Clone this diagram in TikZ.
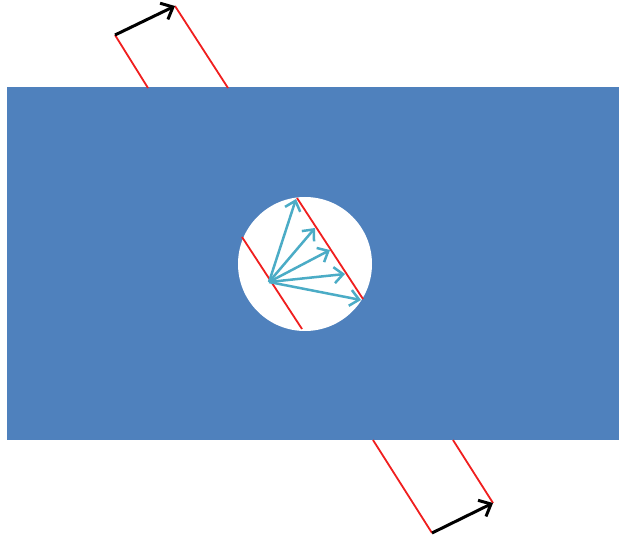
\documentclass[tikz,border=0pt]{standalone}
\usetikzlibrary{arrows.meta}
\definecolor{plate}{RGB}{79,129,189}
\definecolor{ray}{RGB}{75,172,198}
\definecolor{wf}{RGB}{240,30,30}
\begin{document}
\begin{tikzpicture}[x=1pt,y=-1pt,
  redline/.style={wf,line width=1.8pt},
  blackarrow/.style={black,line width=3pt,-{Straight Barb[length=10pt,width=18pt,line width=3pt]}},
  cyanarrow/.style={ray,line width=2.5pt,-{Straight Barb[length=9pt,width=16pt,line width=2.5pt]}}]
\useasboundingbox (0,0) rectangle (619,537);
\fill[plate] (7,87) rectangle (619,440);
\fill[white] (305,264) circle (67);
% top wavefront
\coordinate (ta) at (115,35);
\coordinate (tb) at (175,6);
\coordinate (ta2) at (148,88);
\coordinate (tb2) at (228,88);
\draw[redline] (ta) -- (ta2);
\draw[redline] (tb) -- (tb2);
\draw[blackarrow] (ta) -- (tb);
% bottom wavefront
\coordinate (ba) at (432,533);
\coordinate (bb) at (493,503);
\coordinate (ba2) at (373,440);
\coordinate (bb2) at (453,440);
\draw[redline] (ba2) -- (ba);
\draw[redline] (bb2) -- (bb);
\draw[blackarrow] (ba) -- (bb);
% inside the hole
\coordinate (l1) at (242,237);
\coordinate (l2) at (302,329);
\coordinate (r1) at (297,198);
\coordinate (r2) at (363,299);
\draw[redline] (l1) -- (l2);
\draw[redline] (r1) -- (r2);
\coordinate (o) at (269,282);
\coordinate (p1) at (296,199);
\coordinate (p2) at (315,228);
\coordinate (p3) at (330,250);
\coordinate (p4) at (345,274);
\coordinate (p5) at (361,300);
\foreach \p in {p1,p2,p3,p4,p5} \draw[cyanarrow] (o) -- (\p);
\end{tikzpicture}
\end{document}
